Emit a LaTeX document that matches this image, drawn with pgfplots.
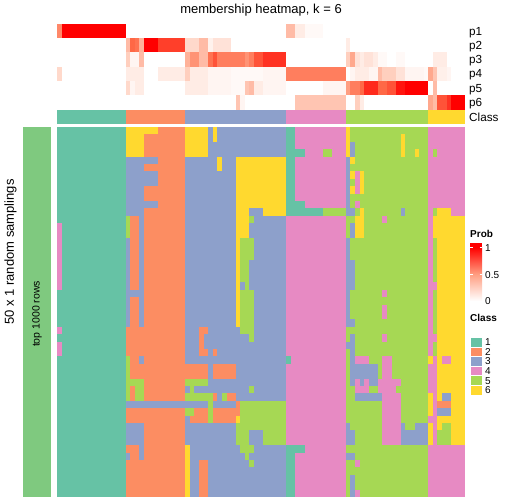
\documentclass[border=0pt]{standalone}
\usepackage{pgfplots}
\pgfplotsset{compat=1.18}
\usepackage{pgfplotstable}
\usepackage{fontspec}
\setmainfont{Liberation Sans}
\definecolor{cA}{RGB}{102,194,165}
\definecolor{cB}{RGB}{252,141,98}
\definecolor{cC}{RGB}{141,160,203}
\definecolor{cD}{RGB}{231,138,195}
\definecolor{cE}{RGB}{166,216,84}
\definecolor{cF}{RGB}{255,217,47}
\definecolor{rowgreen}{RGB}{127,201,127}
\definecolor{pmid}{RGB}{255,158,129}
\pgfdeclareplotmark{cellm}{\pgfpathrectangle{\pgfpoint{-2.35bp}{-3.75bp}}{\pgfpoint{4.7bp}{7.5bp}}\pgfusepathqfill}
\pgfdeclareplotmark{cellp}{\pgfpathrectangle{\pgfpoint{-2.35bp}{-7.2bp}}{\pgfpoint{4.7bp}{14.4bp}}\pgfusepathqfill}

% main membership grid: 50 samplings x 89 samples (class 1..6)
\pgfplotstableread[header=false]{
1 1 1 1 1  1 1 1 1 1  1 1 1 1 1   6 6 6 6 6  6 6 2 2 2  2 2 2   6 6 6 6 6  3 6 3 3 3  3 3 3 3 3  3 3 3 3 3  3 3   1 1 4 4 4  4 4 4 4 4  4 4 4   6 5 5 5 5  5 5 5 5 5  5 5 5 5 5  5 5 5   4 4 4 4 4  4 4 4
1 1 1 1 1  1 1 1 1 1  1 1 1 1 1   6 6 6 6 2  2 2 2 2 2  2 2 2   6 6 6 6 6  3 6 3 3 3  3 3 3 3 3  3 3 3 3 3  3 3   1 1 4 4 4  4 4 4 4 4  4 4 4   6 5 5 5 5  5 5 5 5 5  5 5 6 5 5  5 5 5   4 4 4 4 4  4 4 4
1 1 1 1 1  1 1 1 1 1  1 1 1 1 1   6 6 6 6 2  2 2 2 2 2  2 2 2   6 6 6 6 6  3 3 3 3 3  3 3 3 3 3  3 3 3 3 3  3 3   1 1 4 4 4  4 4 4 4 4  4 4 4   6 3 5 5 5  5 5 5 5 5  5 5 6 5 5  5 5 5   4 4 4 4 4  4 4 4
1 1 1 1 1  1 1 1 1 1  1 1 1 1 1   6 6 6 6 2  2 2 2 2 2  2 2 2   6 6 6 6 6  3 3 3 3 3  3 3 3 3 3  3 3 3 3 3  3 3   1 1 1 1 4  4 4 4 5 5  4 4 4   6 3 5 5 5  5 5 5 5 5  5 5 6 5 5  6 5 5   4 5 4 4 4  4 4 4
1 1 1 1 1  1 1 1 1 1  1 1 1 1 1   3 3 3 3 3  3 3 2 2 2  2 2 2   3 3 3 3 3  3 3 6 3 3  3 6 6 6 6  6 6 6 6 6  6 6   1 1 4 4 4  4 4 4 4 4  4 4 4   3 6 5 5 5  5 5 5 5 5  5 5 5 5 5  5 5 5   4 4 4 4 4  4 4 4
1 1 1 1 1  1 1 1 1 1  1 1 1 1 1   3 3 3 3 2  2 2 2 2 2  2 2 2   3 3 3 3 3  3 3 6 3 3  3 6 6 6 6  6 6 6 6 6  6 6   1 1 4 4 4  4 4 4 4 4  4 4 4   3 5 5 5 5  5 5 5 5 5  5 5 5 5 5  5 5 5   4 4 4 4 4  4 4 4
1 1 1 1 1  1 1 1 1 1  1 1 1 1 1   3 3 3 3 3  3 3 2 2 2  2 2 2   3 3 3 3 3  3 3 3 3 3  3 6 6 6 6  6 6 6 6 6  6 6   1 1 4 4 4  4 4 4 4 4  4 4 4   3 6 4 6 5  5 5 5 5 5  5 5 5 5 5  5 5 5   4 4 4 4 4  4 4 4
1 1 1 1 1  1 1 1 1 1  1 1 1 1 1   3 3 3 3 3  3 3 2 2 2  2 2 2   3 3 3 3 3  3 3 3 3 3  3 6 6 6 6  6 6 6 6 6  6 6   1 1 4 4 4  4 4 4 4 4  4 4 4   3 5 4 6 5  5 5 5 5 5  5 5 5 5 5  5 5 5   4 4 4 4 4  4 4 4
1 1 1 1 1  1 1 1 1 1  1 1 1 1 1   3 3 3 3 2  2 2 2 2 2  2 2 2   3 3 3 3 3  3 3 3 3 3  3 6 6 6 6  6 6 6 6 6  6 6   1 1 4 4 4  4 4 4 4 4  4 4 4   3 6 4 6 5  5 5 5 5 5  5 5 5 5 5  5 5 5   4 4 4 4 4  4 4 4
1 1 1 1 1  1 1 1 1 1  1 1 1 1 1   3 3 3 3 2  2 2 2 2 2  2 2 2   3 3 3 3 3  3 3 3 3 3  3 6 6 6 6  6 6 6 6 6  6 6   1 1 4 4 4  4 4 4 4 4  4 4 4   3 5 5 5 5  5 5 5 5 5  5 5 5 5 5  5 5 5   4 4 4 4 4  4 4 4
1 1 1 1 1  1 1 1 1 1  1 1 1 1 1   3 3 3 3 3  3 3 2 2 2  2 2 2   3 3 3 3 3  3 3 3 3 3  3 6 6 6 6  6 6 6 6 6  6 6   1 1 1 1 4  4 4 4 4 4  4 4 4   3 5 4 5 5  5 5 5 5 5  5 5 5 5 5  5 5 5   4 4 4 4 4  4 4 4
1 1 1 1 1  1 1 1 1 1  1 1 1 1 1   3 3 3 3 2  2 2 2 2 2  2 2 2   3 3 3 3 3  3 3 3 3 3  3 6 6 6 3  3 3 6 6 6  6 6   1 1 1 1 1  1 1 1 5 5  5 5 5   3 3 5 6 5  5 5 5 5 5  5 5 3 5 5  5 5 5   4 5 6 6 6  4 4 4
1 1 1 1 1  1 1 1 1 1  1 1 1 1 1   5 2 2 3 2  2 2 2 2 2  2 2 2   3 3 3 3 3  3 3 3 3 3  3 6 6 6 5  3 3 3 3 3  3 3   4 4 4 4 4  4 4 4 4 4  4 4 4   5 5 6 6 5  5 5 5 4 5  5 5 5 5 5  5 5 5   4 6 6 6 6  6 6 6
4 1 1 1 1  1 1 1 1 1  1 1 1 1 1   5 2 2 3 2  2 2 2 2 2  2 2 2   3 3 3 3 3  3 3 3 3 3  3 6 6 6 3  3 3 3 3 3  3 3   4 4 4 4 4  4 4 4 4 4  4 4 4   5 3 6 6 5  5 5 5 5 5  5 5 5 5 5  5 5 5   4 6 6 6 6  6 6 6
4 1 1 1 1  1 1 1 1 1  1 1 1 1 1   5 2 2 3 2  2 2 2 2 2  2 2 2   3 3 3 3 3  3 3 3 3 3  3 6 6 6 3  3 3 3 3 3  3 3   4 4 4 4 4  4 4 4 4 4  4 4 4   5 3 6 6 5  5 5 5 5 5  5 5 5 5 5  5 5 5   4 6 6 6 6  6 6 6
4 1 1 1 1  1 1 1 1 1  1 1 1 1 1   3 2 2 3 2  2 2 2 2 2  2 2 2   3 3 3 3 3  3 3 3 3 3  3 6 5 5 5  3 3 3 3 3  3 3   4 4 4 4 4  4 4 4 4 4  4 4 4   3 5 5 5 5  5 5 5 5 5  5 5 5 5 5  5 5 5   4 5 6 6 6  6 6 6
4 1 1 1 1  1 1 1 1 1  1 1 1 1 1   3 2 2 3 2  2 2 2 2 2  2 2 2   3 3 3 3 3  3 3 3 3 3  3 6 5 5 5  3 3 3 3 3  3 3   4 4 4 4 4  4 4 4 4 4  4 4 4   3 5 5 5 5  5 5 5 5 5  5 5 5 5 5  5 5 5   4 5 6 6 6  6 6 6
4 1 1 1 1  1 1 1 1 1  1 1 1 1 1   3 2 2 3 2  2 2 2 2 2  2 2 2   3 3 3 3 3  3 3 3 3 3  3 6 5 5 5  3 3 3 3 3  3 3   4 4 4 4 4  4 4 4 4 4  4 4 4   3 5 5 5 5  5 5 5 5 5  5 5 5 5 5  5 5 5   4 5 6 6 6  6 6 6
4 1 1 1 1  1 1 1 1 1  1 1 1 1 1   3 2 2 3 2  2 2 2 2 2  2 2 2   3 3 3 3 3  3 3 3 3 3  3 6 5 5 3  3 3 3 3 3  3 3   4 4 4 4 4  4 4 4 4 4  4 4 4   3 3 5 5 5  5 5 5 5 5  5 5 5 5 5  5 5 5   4 5 6 6 6  6 6 6
4 1 1 1 1  1 1 1 1 1  1 1 1 1 1   3 2 2 3 2  2 2 2 2 2  2 2 2   3 3 3 3 3  3 3 3 3 3  3 6 5 5 3  3 3 3 3 3  3 3   4 4 4 4 4  4 4 4 4 4  4 4 4   3 3 5 5 5  5 5 5 5 5  5 5 5 5 5  5 5 5   4 5 6 6 6  6 6 6
4 1 1 1 1  1 1 1 1 1  1 1 1 1 1   3 2 2 3 2  2 2 2 2 2  2 2 2   3 3 3 3 3  3 3 3 3 3  3 6 5 5 3  3 3 3 3 3  3 3   4 4 4 4 4  4 4 4 4 4  4 4 4   3 3 5 5 5  5 5 5 5 5  5 5 5 5 5  5 5 5   4 5 6 6 6  6 6 6
4 1 1 1 1  1 1 1 1 1  1 1 1 1 1   3 2 2 3 2  2 2 2 2 2  2 2 2   3 3 3 3 3  3 3 3 3 3  3 6 3 5 3  3 3 3 3 3  3 3   4 4 4 4 4  4 4 4 4 4  4 4 4   3 3 5 5 5  5 5 5 5 5  5 5 5 5 5  5 5 5   4 4 6 6 6  6 6 6
1 1 1 1 1  1 1 1 1 1  1 1 1 1 1   3 3 3 3 2  2 2 2 2 2  2 2 2   3 3 3 3 3  3 3 3 3 3  3 6 5 5 5  3 3 3 3 3  3 3   4 4 4 4 4  4 4 4 4 4  4 4 4   3 5 5 5 5  5 5 5 4 5  5 5 5 5 5  5 5 5   4 5 6 6 6  6 6 6
1 1 1 1 1  1 1 1 1 1  1 1 1 1 1   3 2 2 3 2  2 2 2 2 2  2 2 2   3 3 3 3 3  3 3 3 3 3  3 6 5 5 5  3 3 3 3 3  3 3   4 4 4 4 4  4 4 4 4 4  4 4 4   3 5 5 5 5  5 5 5 5 5  5 5 5 5 5  5 5 5   4 5 6 6 6  6 6 6
1 1 1 1 1  1 1 1 1 1  1 1 1 1 1   3 2 2 3 2  2 2 2 2 2  2 2 2   3 3 3 3 3  3 3 3 3 3  3 6 5 5 5  3 3 3 3 3  3 3   4 4 4 4 4  4 4 4 4 4  4 4 4   3 5 5 5 5  5 5 5 4 5  5 5 5 5 5  5 5 5   4 5 6 6 6  6 6 6
1 1 1 1 1  1 1 1 1 1  1 1 1 1 1   3 2 2 3 2  2 2 2 2 2  2 2 2   3 3 3 3 3  3 3 3 3 3  3 6 5 5 5  3 3 3 3 3  3 3   4 4 4 4 4  4 4 4 4 4  4 4 4   3 5 5 5 5  5 5 5 4 5  5 5 5 5 5  5 5 5   4 5 6 6 6  6 6 6
1 1 1 1 1  1 1 1 1 1  1 1 1 1 1   3 2 2 3 2  2 2 2 2 2  2 2 2   3 3 3 3 3  3 3 3 3 3  3 6 5 5 5  3 3 3 3 3  3 3   4 4 4 4 4  4 4 4 4 4  4 4 4   3 3 5 5 5  5 5 5 5 5  5 5 5 5 5  5 5 5   4 5 6 6 6  6 6 6
4 1 1 1 1  1 1 1 1 1  1 1 1 1 1   2 2 2 2 2  2 2 2 2 2  2 2 2   3 3 3 2 2  3 3 3 3 3  3 3 5 5 5  3 3 3 3 3  3 3   4 4 4 4 4  4 4 4 4 4  4 4 4   5 5 5 5 5  5 5 5 5 5  5 5 5 5 5  5 5 5   4 5 6 6 6  6 6 6
1 1 1 1 1  1 1 1 1 1  1 1 1 1 1   2 2 2 2 2  2 2 2 2 2  2 2 2   3 3 3 2 3  3 3 3 3 3  3 3 3 3 5  3 3 3 3 3  3 3   4 4 4 4 4  4 4 4 4 4  4 4 4   5 3 5 5 5  5 5 5 4 5  5 5 5 5 5  5 5 5   4 4 6 6 6  6 6 6
4 1 1 1 1  1 1 1 1 1  1 1 1 1 1   2 2 2 2 2  2 2 2 2 2  2 2 2   3 3 3 2 3  3 3 3 3 3  3 3 3 3 3  3 3 3 3 3  3 3   4 4 4 4 4  4 4 4 4 4  4 4 4   3 3 5 5 5  5 5 5 5 5  5 5 5 5 5  5 5 5   4 5 6 6 6  6 6 6
4 1 1 1 1  1 1 1 1 1  1 1 1 1 1   2 2 2 2 2  2 2 2 2 2  2 2 2   3 3 3 2 2  3 2 3 3 3  3 3 3 3 3  3 3 3 3 3  3 3   4 4 4 4 4  4 4 4 4 4  4 4 4   5 3 5 5 5  5 5 5 5 5  5 5 5 5 5  5 5 5   4 5 6 6 6  6 6 6
1 1 1 1 1  1 1 1 1 1  1 1 1 1 1   5 2 2 3 2  2 2 2 2 2  2 2 2   3 3 3 3 3  3 3 3 3 3  3 3 3 3 3  3 3 3 3 3  3 3   1 4 4 4 4  4 4 4 4 4  4 4 4   5 3 4 4 4  5 5 5 4 4  5 5 5 5 5  5 5 5   6 4 6 4 4  6 6 6
1 1 1 1 1  1 1 1 1 1  1 1 1 1 1   5 2 2 2 2  2 2 2 2 2  2 2 2   2 2 2 2 2  3 2 2 2 2  2 3 3 3 3  3 3 3 3 3  3 3   4 4 4 4 4  4 4 4 4 4  4 4 4   5 3 3 3 3  3 3 5 4 4  5 5 5 5 5  5 5 5   4 4 6 6 6  6 6 6
1 1 1 1 1  1 1 1 1 1  1 1 1 1 1   5 2 2 2 2  2 2 2 2 2  2 2 2   2 2 2 2 2  3 2 2 2 2  2 3 3 3 3  3 3 3 3 3  3 3   4 4 4 4 4  4 4 4 4 4  4 4 4   5 3 3 3 3  3 3 5 4 4  5 5 5 5 5  5 5 5   4 4 6 6 6  6 6 6
1 1 1 1 1  1 1 1 1 1  1 1 1 1 1   5 5 5 5 2  2 2 2 2 2  2 2 2   5 5 5 5 5  3 3 3 3 3  3 3 3 3 3  3 3 3 3 3  3 3   4 4 4 4 4  4 4 4 4 4  4 4 4   5 3 4 3 4  3 3 4 4 4  4 4 5 5 5  5 5 5   4 4 6 6 6  6 6 6
1 1 1 1 1  1 1 1 1 1  1 1 1 1 1   5 2 5 5 2  2 2 2 2 2  2 2 2   3 5 3 3 3  3 3 3 3 3  3 3 3 3 5  3 3 3 3 3  3 3   4 4 4 4 4  4 4 4 4 4  4 4 4   5 5 4 4 4  5 5 4 4 4  4 5 5 5 5  5 5 5   4 4 6 6 6  6 6 6
1 1 1 1 1  1 1 1 1 1  1 1 1 1 1   5 2 5 5 2  2 2 2 2 2  2 2 2   5 5 5 5 5  5 2 3 5 2  2 3 3 3 3  3 3 3 3 3  3 3   4 4 4 4 4  4 4 4 4 4  4 4 4   5 5 3 3 3  3 3 3 4 4  4 4 5 5 5  5 5 5   6 4 6 3 3  6 6 6
1 1 1 1 1  1 1 1 1 1  1 1 1 1 1   3 3 3 3 3  3 3 3 3 3  3 3 3   3 3 3 3 3  5 3 3 3 3  3 2 5 5 5  5 5 5 5 5  5 5   4 4 4 4 4  4 4 4 4 4  4 4 4   5 5 5 5 5  5 5 5 4 4  4 4 5 5 5  5 5 5   6 4 2 2 2  6 6 6
1 1 1 1 1  1 1 1 1 1  1 1 1 1 1   2 2 2 2 2  2 2 2 2 2  2 2 2   5 5 2 2 2  5 2 2 2 2  2 2 5 5 5  5 5 5 5 5  5 5   4 4 4 4 4  4 4 4 4 4  4 4 4   5 5 5 5 5  5 5 5 4 4  4 4 5 5 5  5 5 5   6 4 3 3 3  6 6 6
1 1 1 1 1  1 1 1 1 1  1 1 1 1 1   2 2 2 2 2  2 2 2 2 2  2 2 2   3 2 2 2 2  5 2 2 2 2  2 6 5 5 5  5 5 5 5 5  5 5   4 4 4 4 4  4 4 4 4 4  4 4 4   5 5 5 5 5  5 5 5 4 4  4 4 5 5 5  5 5 5   4 4 6 6 6  6 6 6
1 1 1 1 1  1 1 1 1 1  1 1 1 1 1   3 3 3 3 2  2 2 2 2 2  2 2 2   3 3 3 3 3  3 3 3 3 3  3 5 5 5 5  5 5 5 5 5  5 5   4 4 4 4 4  4 4 4 4 4  4 4 4   3 5 5 5 5  5 5 5 4 4  4 4 3 5 5  3 3 3   6 4 6 5 5  6 6 6
1 1 1 1 1  1 1 1 1 1  1 1 1 1 1   3 3 3 3 2  2 2 2 2 2  2 2 2   3 3 3 3 3  3 3 3 3 3  3 5 5 5 3  3 3 5 5 5  5 5   4 4 4 4 4  4 4 4 4 4  4 4 4   3 3 5 5 5  5 5 5 4 4  4 4 3 3 3  3 3 3   6 4 5 5 5  6 6 6
1 1 1 1 1  1 1 1 1 1  1 1 1 1 1   3 3 3 3 2  2 2 2 2 2  2 2 2   3 3 3 3 3  3 3 3 3 3  3 5 5 5 3  3 3 5 5 5  5 5   4 4 4 4 4  4 4 4 4 4  4 4 4   3 3 5 5 5  5 5 5 4 4  4 4 3 3 3  3 3 3   6 4 5 5 5  6 6 6
1 1 1 1 1  1 1 1 1 1  1 1 1 1 1   2 2 2 3 2  2 2 2 2 2  2 2 2   6 3 3 3 3  3 3 3 3 3  3 3 5 5 5  3 3 3 3 3  3 3   1 1 1 1 4  4 4 4 4 4  4 4 4   5 5 5 5 5  5 5 5 5 5  5 5 5 5 5  5 5 5   4 4 4 4 4  4 4 4
1 1 1 1 1  1 1 1 1 1  1 1 1 1 1   3 2 2 3 2  2 2 2 2 2  2 2 2   6 3 3 3 3  3 3 3 3 3  3 3 3 5 3  3 3 3 3 3  3 3   1 1 4 4 4  4 4 4 4 4  4 4 4   3 3 5 5 5  5 5 5 5 5  5 5 5 5 5  5 5 5   4 4 4 4 4  4 4 4
1 1 1 1 1  1 1 1 1 1  1 1 1 1 1   2 2 2 2 2  2 2 2 2 2  2 2 2   6 3 3 2 2  3 3 3 3 3  3 3 3 3 5  3 3 3 3 3  3 3   1 1 4 4 4  4 4 4 4 4  4 4 4   5 5 4 5 5  5 5 5 5 5  5 5 5 5 5  5 5 5   4 4 4 4 4  4 4 4
1 1 1 1 1  1 1 1 1 1  1 1 1 1 1   2 2 2 2 2  2 2 2 2 2  2 2 2   6 3 3 2 2  3 3 3 3 3  3 3 3 3 3  3 3 3 3 3  3 3   1 1 4 4 4  4 4 4 4 4  4 4 4   5 5 5 5 5  5 5 5 5 5  5 5 5 5 5  5 5 5   4 4 4 4 4  4 4 4
1 1 1 1 1  1 1 1 1 1  1 1 1 1 1   2 2 2 2 2  2 2 2 2 2  2 2 2   6 3 3 2 2  3 3 3 3 3  3 3 3 3 3  3 3 3 3 3  3 3   1 1 4 4 4  4 4 4 4 4  4 4 4   5 3 5 5 5  5 5 5 5 5  5 5 5 5 5  5 5 5   4 4 4 4 4  4 4 4
1 1 1 1 1  1 1 1 1 1  1 1 1 1 1   2 2 2 2 2  2 2 2 2 2  2 2 2   6 3 3 2 2  3 3 3 3 3  3 3 3 3 3  3 3 3 3 3  3 3   1 1 4 4 4  4 4 4 4 4  4 4 4   5 3 5 5 5  5 5 5 5 5  5 5 5 5 5  5 5 5   4 4 4 4 4  4 4 4
1 1 1 1 1  1 1 1 1 1  1 1 1 1 1   2 2 2 2 2  2 2 2 2 2  2 2 2   6 3 3 2 2  3 3 3 3 3  3 3 3 3 3  3 3 3 3 3  3 3   1 1 4 4 4  4 4 4 4 4  4 4 4   5 3 4 5 5  5 5 5 5 5  5 5 5 5 5  5 5 5   4 4 4 4 4  4 4 4
}\grid

% membership probabilities (percent), rows p1..p6, 89 samples
\pgfplotstableread[header=false]{
60 100 100 100 100  100 100 100 100 100  100 100 100 100 100  0 0 0 0 0  0 0 0 0 0  0 0 0 0 0  0 0 0 0 0  0 0 0 0 0  0 0 0 0 0  0 0 0 0 0  35 35 10 10 3  3 3 3 0 0  0 0 0 0 0  0 0 0 0 0  0 0 0 0 0  0 0 0 0 0  0 0 0 0 0  0 0 0 0
0 0 0 0 0  0 0 0 0 0  0 0 0 0 0  35 75 70 40 100  100 100 85 85 85  85 85 85 20 20  20 35 35 7 15  15 15 15 0 0  0 0 0 0 0  0 0 0 0 0  0 0 0 0 0  0 0 0 0 0  0 0 0 10 0  0 0 0 0 0  0 0 0 0 0  0 0 0 0 0  0 0 0 0 0  0 0 0 0
0 0 0 0 0  0 0 0 0 0  0 0 0 0 0  25 5 5 35 0  0 0 0 0 0  0 0 0 40 55  55 35 35 70 80  65 65 65 65 65  65 55 65 80 80  88 88 88 88 88  0 0 0 0 0  0 0 0 0 0  0 0 0 25 45  15 10 15 15 10  3 3 0 0 3  3 0 0 0 0  0 0 10 10 10  0 0 0 0
20 0 0 0 0  0 0 0 0 0  0 0 0 0 0  10 10 10 10 0  0 0 10 10 10  10 10 10 25 10  10 10 10 5 5  5 5 5 3 3  3 3 3 3 3  5 5 5 5 5  65 65 65 65 65  65 65 65 65 65  65 65 65 0 5  10 10 10 5 5  35 25 25 25 15  15 5 5 5 5  3 45 30 8 8  5 0 0 0
0 0 0 0 0  0 0 0 0 0  0 0 0 0 0  20 5 10 10 0  0 0 0 0 0  0 0 0 10 10  10 10 10 5 5  5 5 5 3 3  3 30 35 10 10  5 5 5 5 5  0 0 0 0 0  0 0 0 5 5  5 5 5 50 65  65 75 90 90 90  75 75 80 80 95  95 100 100 100 100  100 0 35 0 0  0 0 0 0
0 0 0 0 0  0 0 0 0 0  0 0 0 0 0  0 0 0 0 0  0 0 0 0 0  0 0 0 0 0  0 0 0 0 0  0 0 0 0 30  5 0 0 0 0  0 0 0 0 0  0 0 30 30 30  30 30 30 30 30  30 30 30 0 0  25 10 0 0 0  0 0 0 0 0  0 0 0 0 0  0 45 35 80 80  88 100 100 100
}\probs

\begin{document}
\begin{tikzpicture}[x=1bp,y=1bp]
\path[use as bounding box] (0,0) rectangle (504,504);

% ---- main heatmap ----
\begin{axis}[at={(57bp,7bp)}, anchor=south west, width=408bp, height=370bp,
  scale only axis, hide axis, xmin=-0.5, xmax=88.5, ymin=-0.5, ymax=49.5, y dir=reverse]
\pgfplotsinvokeforeach{0,...,88}{
  \addplot[scatter, only marks, mark=cellm, point meta=explicit symbolic,
    scatter/classes={1={fill=cA,draw=cA},2={fill=cB,draw=cB},3={fill=cC,draw=cC},
                     4={fill=cD,draw=cD},5={fill=cE,draw=cE},6={fill=cF,draw=cF}}]
    table[x expr=#1, y expr=\coordindex, meta index=#1] {\grid};
}
\end{axis}

% ---- probability annotation ----
\begin{axis}[at={(57bp,394.5bp)}, anchor=south west, width=408bp, height=85.5bp,
  scale only axis, hide axis, xmin=-0.5, xmax=88.5, ymin=-0.5, ymax=5.5, y dir=reverse,
  colormap={prob}{rgb255=(255,255,255) rgb255=(255,207,190) rgb255=(255,158,129) rgb255=(255,104,70) rgb255=(255,0,0)},
  point meta min=0, point meta max=100]
\pgfplotsinvokeforeach{0,...,88}{
  \addplot[scatter, only marks, mark=cellp, point meta=explicit]
    table[x expr=#1, y expr=\coordindex, meta index=#1] {\probs};
}
\end{axis}

% ---- class annotation ----
\begin{axis}[at={(57bp,380bp)}, anchor=south west, width=408bp, height=14bp,
  scale only axis, hide axis, xmin=-0.5, xmax=88.5, ymin=0, ymax=1]
\addplot[draw=none, fill=cA] coordinates {(-0.5,0) (14.5,0) (14.5,1) (-0.5,1)} -- cycle;
\addplot[draw=none, fill=cB] coordinates {(14.5,0) (27.5,0) (27.5,1) (14.5,1)} -- cycle;
\addplot[draw=none, fill=cC] coordinates {(27.5,0) (49.5,0) (49.5,1) (27.5,1)} -- cycle;
\addplot[draw=none, fill=cD] coordinates {(49.5,0) (62.5,0) (62.5,1) (49.5,1)} -- cycle;
\addplot[draw=none, fill=cE] coordinates {(62.5,0) (80.5,0) (80.5,1) (62.5,1)} -- cycle;
\addplot[draw=none, fill=cF] coordinates {(80.5,0) (88.5,0) (88.5,1) (80.5,1)} -- cycle;
\end{axis}

% ---- title and row labels ----
\node[anchor=base, font=\fontsize{13bp}{15bp}\selectfont] at (261,490) {membership heatmap, k = 6};
\begin{scope}[every node/.style={anchor=base west, inner sep=0pt, font=\fontsize{11.7bp}{13bp}\selectfont}]
\node at (469,468.8) {p1};
\node at (469,454.6) {p2};
\node at (469,440.3) {p3};
\node at (469,426.1) {p4};
\node at (469,411.8) {p5};
\node at (469,397.6) {p6};
\node at (469,382.9) {Class};
\end{scope}

% ---- left side ----
\fill[rowgreen] (23,7) rectangle (51,377);
\node[rotate=90, font=\fontsize{10.5bp}{12bp}\selectfont] at (37,190) {top 1000 rows};
\node[rotate=90, font=\fontsize{13bp}{15bp}\selectfont] at (10.5,252) {50 x 1 random samplings};

% ---- legends ----
\begin{scope}[every node/.style={anchor=base west, inner sep=0pt, font=\fontsize{10bp}{12bp}\selectfont}]
\node[font=\fontsize{10bp}{12bp}\selectfont\bfseries] at (470,266.5) {Prob};
\shade[bottom color=white, top color=red, middle color=pmid] (470,203) rectangle (482,256.5);
\fill[red] (470,256.5) rectangle (482,261);
\foreach \yy in {256.5,229.75,203} {\draw[white, line width=0.6bp] (470,\yy) -- (472.5,\yy) (479.5,\yy) -- (482,\yy);}
\node at (485,252.3) {1};
\node at (485,225.6) {0.5};
\node at (485,199.2) {0};
\node[font=\fontsize{10bp}{12bp}\selectfont\bfseries] at (470,182.3) {Class};
\fill[cA, draw=white, line width=0.5bp] (470,156.95) rectangle (482,166.5);
\fill[cB, draw=white, line width=0.5bp] (470,147.4) rectangle (482,156.95);
\fill[cC, draw=white, line width=0.5bp] (470,137.85) rectangle (482,147.4);
\fill[cD, draw=white, line width=0.5bp] (470,128.3) rectangle (482,137.85);
\fill[cE, draw=white, line width=0.5bp] (470,118.75) rectangle (482,128.3);
\fill[cF, draw=white, line width=0.5bp] (470,109.2) rectangle (482,118.75);
\node at (485,158.1) {1};
\node at (485,148.55) {2};
\node at (485,139.0) {3};
\node at (485,129.45) {4};
\node at (485,119.9) {5};
\node at (485,110.35) {6};
\end{scope}
\end{tikzpicture}
\end{document}
